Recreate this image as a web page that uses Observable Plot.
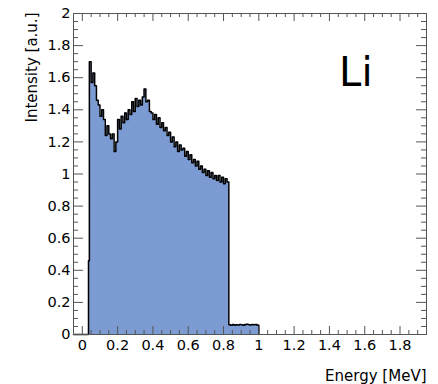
<!DOCTYPE html>
<html>
<head>
<meta charset="utf-8">
<script src="https://cdn.jsdelivr.net/npm/d3@7"></script>
<script src="https://cdn.jsdelivr.net/npm/@observablehq/plot@0.6"></script>
<style>
  html, body { margin: 0; padding: 0; background: #fff; }
</style>
</head>
<body>
<div id="chart"></div>
<script>
// ---- Data ----
const energyStart = 0.04;      // MeV, lower edge of first full bin
const binWidth = 0.01;         // MeV
const leadBin = [0.035, 0.04]; // partial leading bin edges
const leadIntensity = 0.46;
const intensity = [
  1.70, 1.57, 1.63, 1.55, 1.46, 1.43, 1.36, 1.40, 1.34, 1.24,
  1.30, 1.25, 1.22, 1.25, 1.14, 1.20, 1.34, 1.28, 1.36, 1.32,
  1.38, 1.34, 1.40, 1.37, 1.45, 1.39, 1.47, 1.42, 1.46, 1.43,
  1.48, 1.53, 1.45, 1.46, 1.39, 1.38, 1.34, 1.37, 1.31, 1.35,
  1.29, 1.32, 1.27, 1.29, 1.24, 1.26, 1.20, 1.23, 1.17, 1.20,
  1.14, 1.18, 1.15, 1.16, 1.11, 1.14, 1.09, 1.12, 1.07, 1.09,
  1.05, 1.08, 1.03, 1.05, 1.01, 1.03, 0.99, 1.02, 0.98, 1.01,
  0.97, 0.99, 0.96, 0.99, 0.95, 0.98, 0.94, 0.97, 0.95,
  // tail 0.83 - 1.00 MeV
  0.060, 0.058, 0.062, 0.057, 0.061, 0.059, 0.063, 0.060, 0.058,
  0.062, 0.064, 0.061, 0.059, 0.063, 0.060, 0.062, 0.058
];
const xTicks = [0, 0.2, 0.4, 0.6, 0.8, 1, 1.2, 1.4, 1.6, 1.8];
const yTicks = [0, 0.2, 0.4, 0.6, 0.8, 1, 1.2, 1.4, 1.6, 1.8, 2];
const xTitle = "Energy [MeV]";
const yTitle = "Intensity [a.u.]";
const label = "Li";

// ---- Build bins ----
const r = v => Math.round(v * 10000) / 10000;
const bins = [{x1: leadBin[0], x2: leadBin[1], y: leadIntensity}].concat(
  intensity.map((v, i) => ({x1: r(energyStart + i * binWidth), x2: r(energyStart + (i + 1) * binWidth), y: v}))
);
const outline = [{x: -0.05, y: 0}, {x: bins[0].x1, y: 0}];
bins.forEach(b => { outline.push({x: b.x1, y: b.y}); outline.push({x: b.x2, y: b.y}); });
outline.push({x: bins[bins.length - 1].x2, y: 0});

const xMinor = d3.range(-0.05, 1.951, 0.05).map(r).filter(v => !xTicks.some(t => Math.abs(t - v) < 1e-6));
const yMinor = d3.range(0, 2.001, 0.05).map(r).filter(v => !yTicks.some(t => Math.abs(t - v) < 1e-6));

const W = 438, H = 384, mL = 73, mR = 12, mT = 13, mB = 50;
const iW = W - mL - mR, iH = H - mT - mB;
const axisColor = "#555";
const fmt = d => String(+d.toFixed(1));

const plot = Plot.plot({
  width: W, height: H,
  marginLeft: mL, marginRight: mR, marginTop: mT, marginBottom: mB,
  style: {fontFamily: "'DejaVu Sans', sans-serif", fontSize: "14.5px", background: "#fff", color: "#000"},
  x: {domain: [-0.05, 1.95]},
  y: {domain: [0, 2]},
  marks: [
    Plot.area(outline, {x1: "x", y1: 0, y2: "y", fill: "#7b9bd2"}),
    Plot.line(outline, {x: "x", y: "y", stroke: "#000", strokeWidth: 1.5}),
    Plot.frame({stroke: axisColor, strokeWidth: 1}),
    // bottom ticks
    Plot.ruleX(xTicks, {stroke: axisColor, insetTop: iH - 8}),
    Plot.ruleX(xMinor, {stroke: axisColor, insetTop: iH - 4}),
    // top ticks
    Plot.ruleX(xTicks, {stroke: axisColor, insetBottom: iH - 8}),
    Plot.ruleX(xMinor, {stroke: axisColor, insetBottom: iH - 4}),
    // left ticks
    Plot.ruleY(yTicks, {stroke: axisColor, insetRight: iW - 10}),
    Plot.ruleY(yMinor, {stroke: axisColor, insetRight: iW - 5}),
    // right ticks
    Plot.ruleY(yTicks, {stroke: axisColor, insetLeft: iW - 10}),
    Plot.ruleY(yMinor, {stroke: axisColor, insetLeft: iW - 5}),
    Plot.axisX({ticks: xTicks, tickSize: 0, tickPadding: 5, tickFormat: fmt, label: null}),
    Plot.axisY({ticks: yTicks, tickSize: 0, tickPadding: 3, tickFormat: fmt, label: null}),
    Plot.text([xTitle], {frameAnchor: "bottom-right", text: d => d, textAnchor: "end", lineAnchor: "bottom", dy: 46, fontSize: 15}),
    Plot.text([yTitle], {frameAnchor: "top-left", text: d => d, rotate: -90, textAnchor: "end", lineAnchor: "middle", dx: -41, dy: -1, fontSize: 15}),
    Plot.text([label], {frameAnchor: "top-right", text: d => d, textAnchor: "end", lineAnchor: "bottom", dx: -54, dy: 72, fontSize: 40})
  ]
});
document.getElementById("chart").appendChild(plot);
</script>
</body>
</html>
